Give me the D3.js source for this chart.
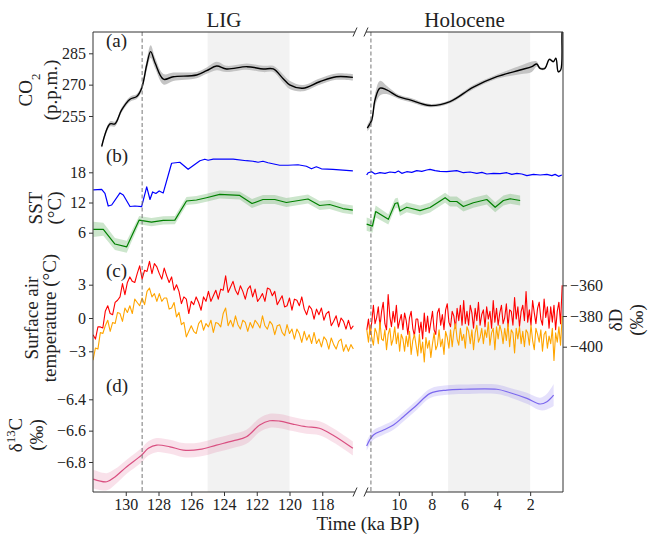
<!DOCTYPE html>
<html>
<head>
<meta charset="utf-8">
<script src="https://cdn.jsdelivr.net/npm/d3@7"></script>
<style>
  body { margin: 0; background: #fff; }
  text { font-family: "Liberation Serif", "DejaVu Serif", serif; fill: #222; }
</style>
</head>
<body>
<svg id="chart" width="649" height="535"></svg>
<script>
// ---------------- data ----------------
// (a) CO2, p.p.m.
var co2LigTime = [131.47,130.96,130.66,130.25,129.74,129.33,129.03,128.72,128.48,128.2,127.7,127.1,125.67,125.06,124.45,123.85,122.6,121.6,120.99,120.4,119.99,119.18,118.16,117.14,116.13];
var co2Lig     = [240.4,251.2,251.2,257.9,263,264.3,268.3,279.4,285.8,280.2,272.6,273.8,274.6,276.7,278.9,277.5,278.6,277.5,277.5,273,269.9,268.3,271.4,273.8,273.5];
var co2LigErr  = [1,1.2,1.2,1.2,1.2,1.2,1.5,2.5,3,2.5,2.5,2,1.5,1.5,2,1.5,1.5,1.5,1.5,2,2,1.5,1.5,1.5,1.5];
var co2HolTime = [11.92,11.65,11.45,11.15,10.74,10.03,9.32,8.1,6.88,5.46,4.03,2.61,1.9,1.6,1.4,1.1,0.83,0.59,0.43,0.29,0.14,0.06,0.01];
var co2Hol     = [249.2,253.1,262.7,268.3,267.5,264.3,262.7,260,261.9,268.8,273.8,277,278.6,279.9,277.8,277.8,282.1,281,282.6,276.2,277,294.6,300];
var co2HolErr  = [1.5,2,3,3.5,2,1,1,0.8,0.8,1,1,2,2.5,1.2,0.6,0.6,0.6,0.6,0.6,0.6,0.6,0.4,0.4];

// (b) SST, degC
var sstBlueLigTime = [131.98,131.47,131.27,131.07,130.86,130.35,130.15,129.74,129.44,129.03,128.72,128.52,128.36,128.16,127.96,127.71,127.2,126.7,126.19,125.47,125.17,124.97,124.66,123.44,122.63,122.23,121.92,121.62,121.31,120.6,120.09,119.48,118.97,118.66,118.36,118.05,117.35,116.13];
var sstBlueLig     = [14.5,14.6,13.8,11.3,11.5,13.9,13.5,11.2,11.3,11.2,15.1,12.6,14.1,13.8,14.3,13.9,19.8,20.0,18.6,20.3,20.6,20.4,20.6,20.6,20.3,20.2,20.0,20.2,19.9,19.4,19.4,19.5,19.2,18.7,19.1,18.7,18.6,18.3];
var sstGreenLigTime = [131.98,131.37,130.66,129.94,129.18,128.43,127.71,127,126.29,125.68,125.07,124.26,123.04,122.29,121.62,120.9,120.19,118.87,118.16,117.55,116.74,116.13];
var sstGreenLig     = [6.67,6.67,3.75,3.2,8.5,8.1,8.45,8.5,12.3,12.5,12.95,13.6,13.4,11.8,12.6,12.6,12,12.7,11.4,11.6,10.8,10.5];
var sstGreenLigErr  = [1.5,1.3,1.2,1.2,0.8,0.8,0.8,0.8,0.8,0.8,0.8,0.8,0.8,0.9,0.9,0.9,0.9,0.9,0.9,0.9,0.9,0.9];
var sstBlueHolTime = [11.96,11.86,11.65,11.45,11.15,10.84,10.54,10.23,10.03,9.82,9.52,9.21,8.91,8.6,8.3,8.1,7.79,7.49,7.08,6.47,6.07,5.66,5.25,4.94,4.64,4.24,3.83,3.42,3.12,2.81,2.51,2.2,1.8,1.39,0.98,0.68,0.48,0.27,0.07];
var sstBlueHol     = [17.46,17.92,18.12,17.66,17.92,17.79,18.06,17.92,18.26,17.79,18.12,17.99,18.32,18.19,18.46,18.59,18.32,18.19,18.12,18.32,17.92,18.06,17.79,17.99,17.66,17.79,17.72,17.92,17.59,17.79,17.66,17.33,17.59,17.46,17.59,17.33,17.59,17.2,17.46];
var sstGreenHolTime = [11.96,11.61,11.41,10.64,10.23,10.07,9.93,9.52,8.71,8.1,7.18,6.88,6.47,6.07,5.46,4.64,4.13,3.63,3.22,2.61];
var sstGreenHol     = [7.7,7.3,10.2,8.65,11.8,11.95,10.3,11.05,10.4,11,12.95,12.2,12.2,11.2,11.95,12.6,11.05,12.4,12.75,12.4];
var sstGreenHolErr  = [1.3,1.3,1.2,1,1,1,1,1,1,1,1,1,1,1,1,1,1,1,1,1];

// (c) surface air temperature (LIG, degC, every 0.15 ka from 132 ka)
var satStart = 132, satStep = 0.15;
var satRed = [-1.5,-1.9,-0.8,-0.8,-0.9,0.6,1.1,0.4,0.3,1.4,1.6,1.9,3.1,2.1,3.2,3.7,3.3,3.2,4.0,4.7,3.5,4.3,4.2,5.1,4.0,4.9,4.6,4.0,3.5,4.5,3.8,3.2,3.7,2.5,3.0,2.4,1.3,1.9,1.7,0.4,1.5,1.2,1.9,1.4,0.7,1.9,1.5,2.4,1.5,2.0,2.5,1.7,2.6,2.5,3.8,2.3,2.8,3.3,2.5,2.1,2.9,2.4,1.7,2.6,2.9,1.9,2.6,1.5,1.8,2.2,1.5,2.7,2.6,2.0,2.4,1.2,1.6,2.0,1.0,1.1,1.8,0.7,1.7,1.6,1.1,1.9,0.8,0.3,1.1,0.8,-0.1,0.8,0.3,0.9,-0.2,0.4,0.6,-0.7,-0.3,0.2,-0.8,0.0,-0.3,-1.0,-0.2,-1.0,-0.7];
var satOrange = [-3.8,-2.7,-2.8,-1.3,-1.4,-0.7,-0.2,-1.2,-0.4,-0.5,0.5,0.4,-0.3,0.9,0.5,1.1,0.4,1.7,1.4,1.1,1.8,1.2,2.4,2.7,1.9,2.2,1.5,2.2,1.5,1.8,1.8,0.8,0.9,1.4,0.1,0.5,-0.6,-0.4,-1.7,-1.2,-0.7,-1.2,-1.4,-0.5,-0.2,-1.1,-0.5,-0.8,-0.2,-1.3,-0.4,-0.5,-0.8,0.4,0.9,-0.7,-0.2,-0.8,0.2,-0.6,-1.0,-0.2,-0.4,-1.2,-0.4,-0.9,-0.2,-0.5,-0.9,0.2,-0.7,-1.0,-0.3,-0.6,-1.5,-0.7,-0.6,-1.3,-1.6,-0.6,-1.4,-1.0,-1.9,-1.0,-1.4,-2.2,-1.2,-2.0,-1.5,-2.3,-1.3,-2.3,-1.9,-2.6,-1.7,-2.0,-2.8,-1.8,-2.4,-2.8,-2.1,-1.9,-3.0,-2.4,-3.0,-2.4,-2.8];
// (c) deltaD (Holocene, permil, every 0.1 ka from 11.95 ka)
var dDStart = 11.95, dDStep = 0.1;
var dDRed = [-389,-382,-392,-384,-373,-385,-381,-374,-387,-377,-371,-385,-389,-366,-380,-387,-377,-384,-373,-388,-383,-379,-389,-378,-383,-392,-381,-377,-388,-393,-382,-382,-391,-384,-395,-378,-390,-380,-391,-384,-377,-389,-392,-378,-375,-386,-379,-389,-376,-372,-384,-387,-377,-380,-388,-375,-383,-373,-386,-370,-385,-377,-386,-373,-378,-388,-375,-383,-371,-386,-379,-376,-387,-374,-382,-377,-388,-370,-384,-375,-386,-378,-373,-385,-381,-372,-387,-376,-377,-386,-368,-382,-374,-387,-377,-373,-383,-364,-384,-376,-386,-370,-378,-385,-375,-371,-382,-386,-369,-381,-374,-388,-374,-384,-373,-389,-377,-371,-385,-360];
var dDOrange = [-389,-397,-386,-394,-399,-388,-391,-398,-384,-395,-396,-389,-402,-392,-388,-399,-395,-387,-398,-391,-403,-392,-395,-403,-393,-400,-390,-405,-396,-392,-399,-406,-392,-404,-397,-410,-394,-401,-396,-407,-398,-391,-402,-399,-389,-400,-395,-405,-390,-394,-401,-389,-400,-390,-385,-395,-399,-388,-396,-392,-401,-387,-390,-398,-389,-402,-391,-386,-397,-394,-388,-398,-389,-394,-384,-399,-391,-388,-402,-387,-395,-386,-390,-398,-388,-396,-385,-400,-389,-391,-404,-388,-395,-387,-398,-390,-400,-389,-391,-399,-386,-396,-402,-388,-392,-397,-389,-403,-392,-390,-401,-393,-398,-388,-409,-391,-397,-387,-399,-380];

// (d) delta13C, permil
var d13LigTime = [131.98,131.16,130.66,129.94,129.03,128.62,128.11,127.3,126.49,125.48,124.46,123.45,122.63,121.82,121.21,120.6,119.8,118.98,118.17,117.36,116.13];
var d13Lig     = [-6.909,-6.926,-6.895,-6.83,-6.756,-6.713,-6.692,-6.703,-6.724,-6.72,-6.692,-6.665,-6.639,-6.564,-6.537,-6.539,-6.558,-6.575,-6.585,-6.628,-6.713];
var d13LigErr  = [0.06,0.055,0.05,0.045,0.045,0.045,0.045,0.045,0.045,0.045,0.045,0.045,0.045,0.045,0.045,0.045,0.045,0.045,0.045,0.045,0.045];
var d13HolTime = [11.96,11.55,10.94,10.33,9.72,8.9,8.09,7.07,6.06,4.03,3.22,2.2,1.39,0.98,0.57];
var d13Hol     = [-6.698,-6.628,-6.596,-6.564,-6.511,-6.436,-6.362,-6.341,-6.336,-6.336,-6.358,-6.394,-6.43,-6.415,-6.373];
var d13HolErr  = [0.03,0.03,0.03,0.03,0.03,0.03,0.03,0.03,0.03,0.03,0.03,0.035,0.04,0.05,0.07];

// ticks and markers
var ligTicks = [130,128,126,124,122,120,118];
var holTicks = [10,8,6,4,2];
var co2Ticks = [255,270,285];
var sstTicks = [6,12,18];
var satTicks = [-3,0,3];
var dDTicks = [-400,-380,-360];
var d13Ticks = [-6.8,-6.6,-6.4];
var ligShade = [125,120], holShade = [7,2];
var ligEvent = 129, holEvent = 11.7;

// ---------------- drawing ----------------
var svg = d3.select('#chart');
var yTop = 32, yBot = 492;

var xL = d3.scaleLinear().domain([132,116]).range([93,355]);
var xR = d3.scaleLinear().domain([12,0]).range([366,563]);

var yCO2 = d3.scaleLinear().domain([255,285]).range([116,53.3]);
var ySST = d3.scaleLinear().domain([6,18]).range([232.7,172.3]);
var ySAT = d3.scaleLinear().domain([-3,3]).range([351.3,284.7]);
var ydD  = d3.scaleLinear().domain([-400,-360]).range([346.7,285.3]);
var yD13 = d3.scaleLinear().domain([-6.8,-6.4]).range([462,399.3]);

var defs = svg.append('defs');
defs.append('clipPath').attr('id','clipL').append('rect')
    .attr('x',93).attr('y',yTop).attr('width',262).attr('height',yBot-yTop);
defs.append('clipPath').attr('id','clipR').append('rect')
    .attr('x',366).attr('y',yTop).attr('width',197).attr('height',yBot-yTop);

var gL = svg.append('g').attr('clip-path','url(#clipL)');
var gR = svg.append('g').attr('clip-path','url(#clipR)');

// shaded intervals
gL.append('rect').attr('x',xL(ligShade[0])).attr('width',xL(ligShade[1])-xL(ligShade[0]))
    .attr('y',yTop).attr('height',yBot-yTop).attr('fill','#f2f2f2');
gR.append('rect').attr('x',xR(holShade[0])).attr('width',xR(holShade[1])-xR(holShade[0]))
    .attr('y',yTop).attr('height',yBot-yTop).attr('fill','#f2f2f2');

function band(g, x, y, times, vals, errs, fill, curve) {
    var area = d3.area()
        .x(function(d,i){ return x(times[i]); })
        .y0(function(d,i){ return y(vals[i]-errs[i]); })
        .y1(function(d,i){ return y(vals[i]+errs[i]); })
        .curve(curve || d3.curveCatmullRom);
    g.append('path').datum(vals).attr('d',area).attr('fill',fill).attr('stroke','none');
}
function line(g, x, y, times, vals, color, width, curve) {
    var ln = d3.line()
        .x(function(d,i){ return x(times[i]); })
        .y(function(d){ return y(d); })
        .curve(curve || d3.curveLinear);
    g.append('path').datum(vals).attr('d',ln).attr('fill','none')
        .attr('stroke',color).attr('stroke-width',width||1.3).attr('stroke-linejoin','round');
}
function regularTimes(start, step, n) {
    return d3.range(n).map(function(i){ return start - step*i; });
}

// (a)
band(gL, xL, yCO2, co2LigTime, co2Lig, co2LigErr, '#c4c4c4');
line(gL, xL, yCO2, co2LigTime, co2Lig, '#000', 1.4, d3.curveCatmullRom);
band(gR, xR, yCO2, co2HolTime, co2Hol, co2HolErr, '#c4c4c4');
line(gR, xR, yCO2, co2HolTime, co2Hol, '#000', 1.4, d3.curveCatmullRom);

// (b)
line(gL, xL, ySST, sstBlueLigTime, sstBlueLig, '#0000ff', 1.2);
band(gL, xL, ySST, sstGreenLigTime, sstGreenLig, sstGreenLigErr, 'rgba(0,128,0,0.2)', d3.curveLinear);
line(gL, xL, ySST, sstGreenLigTime, sstGreenLig, '#008000', 1.2);
line(gR, xR, ySST, sstBlueHolTime, sstBlueHol, '#0000ff', 1.2);
band(gR, xR, ySST, sstGreenHolTime, sstGreenHol, sstGreenHolErr, 'rgba(0,128,0,0.2)', d3.curveLinear);
line(gR, xR, ySST, sstGreenHolTime, sstGreenHol, '#008000', 1.2);

// (c)
var satTime = regularTimes(satStart, satStep, satRed.length);
line(gL, xL, ySAT, satTime, satRed, '#ff0000', 1.1);
line(gL, xL, ySAT, satTime, satOrange, '#ffa500', 1.1);
var dDTime = regularTimes(dDStart, dDStep, dDRed.length);
line(gR, xR, ydD, dDTime, dDRed, '#ff0000', 1.1);
line(gR, xR, ydD, dDTime, dDOrange, '#ffa500', 1.1);

// (d)
band(gL, xL, yD13, d13LigTime, d13Lig, d13LigErr, 'rgba(220,90,140,0.18)');
line(gL, xL, yD13, d13LigTime, d13Lig, '#d94f80', 1.2, d3.curveCatmullRom);
band(gR, xR, yD13, d13HolTime, d13Hol, d13HolErr, 'rgba(123,104,238,0.2)');
line(gR, xR, yD13, d13HolTime, d13Hol, '#7b68ee', 1.2, d3.curveCatmullRom);

// event lines
svg.append('line').attr('x1',xL(ligEvent)).attr('x2',xL(ligEvent)).attr('y1',yTop).attr('y2',yBot)
    .attr('stroke','#777').attr('stroke-width',1).attr('stroke-dasharray','4,2.5');
svg.append('line').attr('x1',xR(holEvent)).attr('x2',xR(holEvent)).attr('y1',yTop).attr('y2',yBot)
    .attr('stroke','#777').attr('stroke-width',1).attr('stroke-dasharray','4,2.5');

// spines
var spine = '#333';
[[93,yTop,355,yTop],[366,yTop,563,yTop],[93,yBot,355,yBot],[366,yBot,563,yBot],
 [93,yTop,93,yBot],[563,yTop,563,yBot]].forEach(function(s){
    svg.append('line').attr('x1',s[0]).attr('y1',s[1]).attr('x2',s[2]).attr('y2',s[3])
        .attr('stroke',spine).attr('stroke-width',1);
});
// break marks
[[355,yTop],[366,yTop],[355,yBot],[366,yBot]].forEach(function(p){
    svg.append('line').attr('x1',p[0]-2).attr('y1',p[1]+4.5).attr('x2',p[0]+2).attr('y2',p[1]-4.5)
        .attr('stroke',spine).attr('stroke-width',1);
});

// axes
function styleAxis(g) {
    g.select('.domain').remove();
    g.selectAll('.tick line').attr('stroke',spine);
    g.selectAll('.tick text').style('font-size','16px').attr('fill','#222')
        .style('font-family','"Liberation Serif", "DejaVu Serif", serif');
}
function leftAxis(scale, vals, fmt) {
    svg.append('g').attr('transform','translate(93,0)')
        .call(d3.axisLeft(scale).tickValues(vals).tickSize(4).tickPadding(3).tickFormat(d3.format(fmt)))
        .call(styleAxis);
}
leftAxis(yCO2, co2Ticks, 'd');
leftAxis(ySST, sstTicks, 'd');
leftAxis(ySAT, satTicks, 'd');
leftAxis(yD13, d13Ticks, '.1f');
svg.append('g').attr('transform','translate(563,0)')
    .call(d3.axisRight(ydD).tickValues(dDTicks).tickSize(4).tickPadding(3).tickFormat(d3.format('d')))
    .call(styleAxis);
svg.append('g').attr('transform','translate(0,'+yBot+')')
    .call(d3.axisBottom(xL).tickValues(ligTicks).tickSize(4).tickPadding(3).tickFormat(d3.format('d')))
    .call(styleAxis);
svg.append('g').attr('transform','translate(0,'+yBot+')')
    .call(d3.axisBottom(xR).tickValues(holTicks).tickSize(4).tickPadding(3).tickFormat(d3.format('d')))
    .call(styleAxis);

// titles
svg.append('text').attr('x',224).attr('y',27).attr('text-anchor','middle').style('font-size','21px').text('LIG');
svg.append('text').attr('x',464.5).attr('y',27).attr('text-anchor','middle').style('font-size','21px').text('Holocene');
svg.append('text').attr('x',368).attr('y',530).attr('text-anchor','middle').style('font-size','19px').text('Time (ka BP)');

// panel letters
[['(a)',47],['(b)',162],['(c)',277],['(d)',392]].forEach(function(p){
    svg.append('text').attr('x',106).attr('y',p[1]).style('font-size','19px').text(p[0]);
});

// y labels (rotated)
function vlabel(x, y, size) {
    return svg.append('text').attr('transform','translate('+x+','+y+') rotate(-90)')
        .attr('text-anchor','middle').style('font-size',size+'px');
}
var t;
t = vlabel(32, 90, 19); t.append('tspan').text('CO'); t.append('tspan').attr('baseline-shift','sub').style('font-size','13px').text('2');
vlabel(57, 90, 19).text('(p.p.m.)');
vlabel(42, 208, 19).text('SST');
vlabel(61, 208, 19).text('(°C)');
vlabel(38, 318, 19).text('Surface air');
vlabel(56, 318, 19).text('temperature (°C)');
t = vlabel(22, 435, 19); t.append('tspan').text('δ'); t.append('tspan').attr('baseline-shift','super').style('font-size','13px').text('13'); t.append('tspan').attr('baseline-shift','0').text('C');
vlabel(43, 435, 19).text('(‰)');
vlabel(622, 320, 19).text('δD');
vlabel(643, 320, 19).text('(‰)');
</script>
</body>
</html>
